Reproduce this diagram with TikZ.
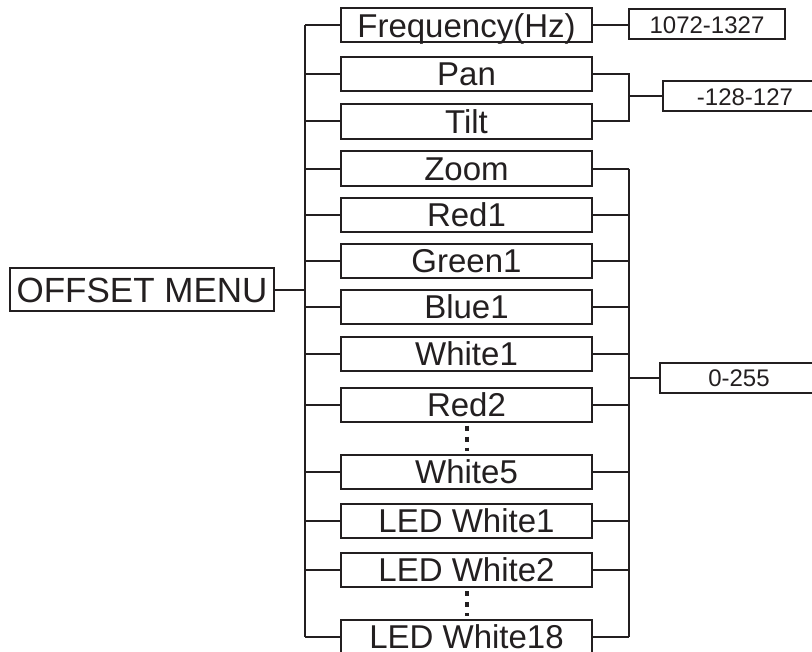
\documentclass[tikz,border=0pt]{standalone}
\usepackage{fontspec}
\setmainfont{Liberation Sans}
\definecolor{ink}{HTML}{231F20}
\begin{document}
\begin{tikzpicture}[x=1bp,y=-1bp,
  ln/.style={draw=ink,line width=2bp},
  item/.style={draw=ink,line width=2bp,minimum width=251bp,minimum height=34bp,inner sep=0pt,
    text height=23.6bp,text depth=0bp,font=\fontsize{33bp}{36bp}\selectfont,text=ink},
  val/.style={draw=ink,line width=2bp,minimum height=30bp,inner sep=0pt,anchor=west,
    text height=17.2bp,text depth=0bp,font=\fontsize{24bp}{26bp}\selectfont,text=ink},
  menu/.style={draw=ink,line width=2bp,minimum width=264bp,minimum height=43bp,inner sep=0pt,
    text height=25bp,text depth=0bp,font=\fontsize{35bp}{38bp}\selectfont,text=ink},
  dotline/.style={draw=ink,line width=4bp,dash pattern=on 5bp off 6bp,shorten <=3bp,shorten >=3bp}]
\useasboundingbox (0,0) rectangle (812,652);
\fill[white] (0,0) rectangle (812,652);

\node[menu] (menu) at (142,289.5) {OFFSET MENU};

\node[item] (freq) at (466.5,25.5) {Frequency(Hz)};
\node[item] (pan) at (466.5,74) {Pan};
\node[item] (tilt) at (466.5,121.5) {Tilt};
\node[item] (zoom) at (466.5,168.5) {Zoom};
\node[item] (red1) at (466.5,215) {Red1};
\node[item] (green1) at (466.5,260.5) {Green1};
\node[item] (blue1) at (466.5,307) {Blue1};
\node[item] (white1) at (466.5,353.5) {White1};
\node[item] (red2) at (466.5,404.5) {Red2};
\node[item] (white5) at (466.5,471.5) {White5};
\node[item] (ledw1) at (466.5,520.5) {LED White1};
\node[item] (ledw2) at (466.5,570) {LED White2};
\node[item] (ledw18) at (466.5,637) {LED White18};

\node[val,minimum width=156bp] (v1) at (628,24.5) {1072-1327};
\node[val,minimum width=164bp] (v2) at (662,96.5) {-128-127};
\node[val,minimum width=158bp] (v3) at (659,377.5) {0-255};

\coordinate (lt) at (305,0);
\coordinate (rt) at (629,0);

% left tree
\draw[ln] (menu.east) -- (lt |- menu.east);
\draw[ln] (lt |- freq.west) -- (lt |- ledw18.west);
\foreach \n in {freq,pan,tilt,zoom,red1,green1,blue1,white1,red2,white5,ledw1,ledw2,ledw18}
  \draw[ln] (lt |- \n.west) -- (\n.west);

% frequency
\draw[ln] (freq.east) -- (v1.west |- freq.east);

% pan / tilt
\draw[ln] (pan.east) -- (rt |- pan.east) -- (rt |- tilt.east) -- (tilt.east);
\draw[ln] (rt |- v2.west) -- (v2.west);

% 0-255 group
\draw[ln] (rt |- zoom.east) -- (rt |- ledw18.east);
\foreach \n in {zoom,red1,green1,blue1,white1,red2,white5,ledw1,ledw2,ledw18}
  \draw[ln] (\n.east) -- (rt |- \n.east);
\draw[ln] (rt |- v3.west) -- (v3.west);

% dots
\draw[dotline] (red2.south) -- (white5.north);
\draw[dotline] (ledw2.south) -- (ledw18.north);
\end{tikzpicture}
\end{document}
